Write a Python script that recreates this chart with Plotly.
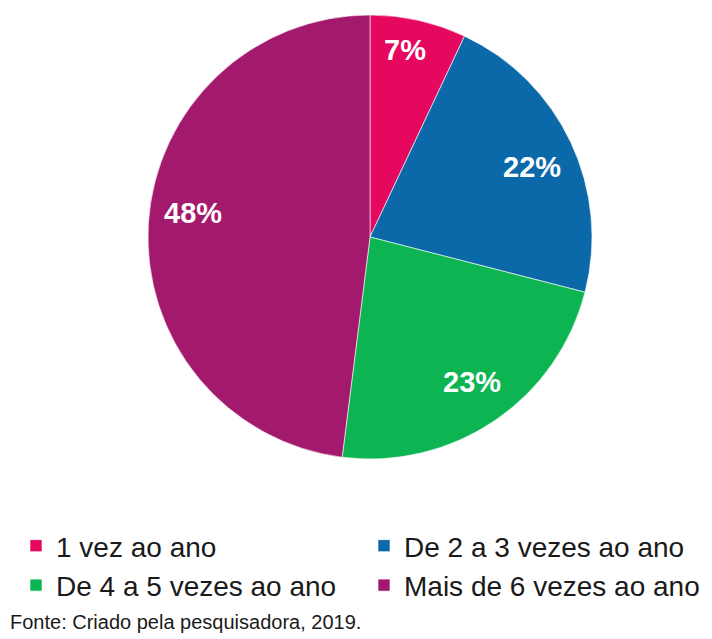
import math
import plotly.graph_objects as go

labels = ["1 vez ao ano", "De 2 a 3 vezes ao ano", "De 4 a 5 vezes ao ano", "Mais de 6 vezes ao ano"]
values = [7, 22, 23, 48]
colors = ["#E6075E", "#0B69AA", "#0DB552", "#A3196E"]
source = "Fonte: Criado pela pesquisadora, 2019."

# the page body adds an 8px offset, so the figure is drawn 8px smaller
OFF = 8
W, H = 712 - OFF, 639 - OFF
# pie geometry (pixels, figure frame)
CX, CY, R = 370 - OFF, 237 - OFF, 222
label_radius = [0.856, 0.795, 0.80, 0.805]
label_angle_shift = [-2.0, 2.0, -1.0, 4.0]  # degrees, fine placement

fig = go.Figure(go.Pie(
    labels=labels,
    values=values,
    sort=False,
    direction="clockwise",
    rotation=0,
    marker=dict(colors=colors, line=dict(color="rgba(255,255,255,0.6)", width=1)),
    textinfo="none",
    domain=dict(x=[(CX - R) / W, (CX + R) / W], y=[1 - (CY + R) / H, 1 - (CY - R) / H]),
    hoverinfo="label+percent",
))

# percentage labels placed from the data (slice mid-angles)
total = sum(values)
cum = 0
annotations = []
for v, rf, da in zip(values, label_radius, label_angle_shift):
    mid = (cum + v / 2) / total * 2 * math.pi + math.radians(da)
    cum += v
    px = CX + rf * R * math.sin(mid)
    py = CY - rf * R * math.cos(mid)
    annotations.append(dict(
        text=f"<b>{round(v / total * 100)}%</b>",
        x=px / W, y=1 - py / H, xref="paper", yref="paper",
        xanchor="center", yanchor="middle", showarrow=False,
        font=dict(family="Liberation Sans, Arial, sans-serif", size=29, color="white"),
    ))

annotations.append(dict(
    text=source, x=0.0, y=1 - (622 - OFF) / H, xref="paper", yref="paper",
    xanchor="left", yanchor="middle", showarrow=False,
    font=dict(size=20, color="#1a1a1a"),
))

fig.update_layout(
    width=W, height=H,
    margin=dict(l=0, r=0, t=0, b=0),
    paper_bgcolor="white",
    plot_bgcolor="white",
    font=dict(family="Liberation Sans, Arial, sans-serif", size=20, color="#1a1a1a"),
    showlegend=True,
    legend=dict(
        orientation="h",
        x=13 / W, xanchor="left",
        y=1 - 513 / H, yanchor="top",
        entrywidth=303, entrywidthmode="pixels",
        font=dict(size=28, color="#1a1a1a"),
        traceorder="normal",
        tracegroupgap=0,
    ),
    annotations=annotations,
)

fig.write_html("out.html")
